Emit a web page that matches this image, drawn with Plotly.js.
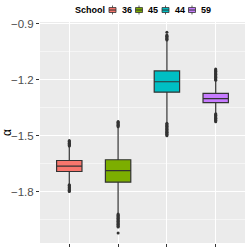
<!DOCTYPE html>
<html>
<head>
<meta charset="utf-8">
<script src="https://cdn.plot.ly/plotly-3.0.1.min.js"></script>
<style>html,body{margin:0;padding:0;background:#fff}#chart{width:249px;height:249px}</style>
</head>
<body>
<div id="chart"></div>
<script>
// ---- data ----
var schools = ['36', '45', '44', '59'];
var colors = ['#F8766D', '#7CAE00', '#00BFC4', '#C77CFF'];
var q1 = [-1.691, -1.748, -1.266, -1.322];
var median = [-1.662, -1.686, -1.210, -1.300];
var q3 = [-1.632, -1.628, -1.152, -1.272];
var lowerfence = [-1.758, -1.915, -1.428, -1.379];
var upperfence = [-1.557, -1.455, -0.990, -1.205];
var outliers36 = [-1.525, -1.529, -1.533, -1.537, -1.540, -1.543, -1.546, -1.549, -1.552, -1.554,
                  -1.762, -1.765, -1.769, -1.772, -1.776, -1.779, -1.783, -1.787, -1.791, -1.795, -1.798];
var outliers45 = [-1.423, -1.427, -1.431, -1.435, -1.439, -1.443, -1.447, -1.451,
                  -1.919, -1.923, -1.926, -1.930, -1.934, -1.938, -1.942, -1.946, -1.950, -1.954, -1.958,
                  -1.962, -1.966, -1.970, -1.974, -1.978, -1.982, -1.985, -1.988, -2.020];
var outliers44 = [-0.945, -0.959, -0.963, -0.967, -0.971, -0.975, -0.979, -0.983, -0.987,
                  -1.432, -1.436, -1.440, -1.444, -1.448, -1.452, -1.456, -1.460, -1.464, -1.468, -1.472,
                  -1.476, -1.480, -1.484, -1.488, -1.492, -1.496, -1.500];
var outliers59 = [-1.142, -1.146, -1.150, -1.154, -1.158, -1.162, -1.166, -1.170, -1.174, -1.178,
                  -1.182, -1.186, -1.190, -1.194, -1.198, -1.202,
                  -1.381, -1.385, -1.389, -1.393, -1.397, -1.401, -1.405, -1.409, -1.413, -1.417, -1.421, -1.425];
var outlierSets = [outliers36, outliers45, outliers44, outliers59];
var yTickVals = [-0.9, -1.2, -1.5, -1.8];
var yTickText = ['\u22120.9', '\u22121.2', '\u22121.5', '\u22121.8'];
var legendTitle = 'School';
var yTitle = '\u03b1';

// ---- traces ----
var traces = [];
schools.forEach(function (s, i) {
  traces.push({
    type: 'box', x: [s],
    q1: [q1[i]], median: [median[i]], q3: [q3[i]],
    lowerfence: [lowerfence[i]], upperfence: [upperfence[i]],
    boxpoints: false, width: 0.52, whiskerwidth: 0,
    fillcolor: colors[i], line: { color: '#333333', width: 1.2 },
    showlegend: false, hoverinfo: 'skip'
  });
});
schools.forEach(function (s, i) {
  traces.push({
    type: 'scatter', mode: 'markers',
    x: outlierSets[i].map(function () { return s; }), y: outlierSets[i],
    marker: { color: '#333333', size: 3 },
    showlegend: false, hoverinfo: 'skip'
  });
});

// ---- custom legend (paper coords) ----
var L = 40, R = 245, T = 22, B = 243.3;
function px(x) { return (x - L) / (R - L); }
function py(y) { return (B - y) / (B - T); }
var annotations = [{
  xref: 'paper', yref: 'paper', x: px(73), y: py(10), xanchor: 'left', yanchor: 'middle',
  text: '<b>' + legendTitle + '</b>', showarrow: false,
  font: { family: 'Liberation Sans, Arial, sans-serif', size: 9, color: '#000' }
}];
var shapes = [];
var iconLeft = [109, 135.5, 162, 188.5];
schools.forEach(function (s, i) {
  var x0 = iconLeft[i], x1 = x0 + 7, xc = x0 + 3.5;
  shapes.push({ type: 'line', xref: 'paper', yref: 'paper', x0: px(xc), x1: px(xc), y0: py(5.5), y1: py(14.5),
    line: { color: '#333333', width: 0.8 } });
  shapes.push({ type: 'rect', xref: 'paper', yref: 'paper', x0: px(x0), x1: px(x1), y0: py(7.5), y1: py(12.5),
    fillcolor: colors[i], line: { color: '#333333', width: 0.8 } });
  shapes.push({ type: 'line', xref: 'paper', yref: 'paper', x0: px(x0), x1: px(x1), y0: py(10), y1: py(10),
    line: { color: '#333333', width: 1 } });
  annotations.push({
    xref: 'paper', yref: 'paper', x: px(x1 + 3.5), y: py(10), xanchor: 'left', yanchor: 'middle',
    text: '<b>' + s + '</b>', showarrow: false,
    font: { family: 'Liberation Sans, Arial, sans-serif', size: 9, color: '#000' }
  });
});

var layout = {
  width: 249, height: 249,
  margin: { l: L, r: 249 - R, t: T, b: 249 - B },
  paper_bgcolor: '#ffffff', plot_bgcolor: '#EBEBEB',
  showlegend: false,
  font: { family: 'Liberation Sans, Arial, sans-serif' },
  xaxis: {
    type: 'category', categoryorder: 'array', categoryarray: schools,
    range: [-0.6, 3.6], showticklabels: false,
    ticks: 'outside', ticklen: 3, tickcolor: '#333333', tickwidth: 1,
    showgrid: true, gridcolor: '#ffffff', gridwidth: 1.1, zeroline: false, showline: false, fixedrange: true
  },
  yaxis: {
    range: [-2.074, -0.890],
    tickvals: yTickVals, ticktext: yTickText,
    ticks: 'outside', ticklen: 3, tickcolor: '#333333', tickwidth: 1,
    tickfont: { size: 11.5, color: '#4D4D4D' },
    showgrid: true, gridcolor: '#ffffff', gridwidth: 1.1,
    minor: { tickvals: [-1.05, -1.35, -1.65, -1.95], showgrid: true, gridcolor: '#ffffff', gridwidth: 0.5, ticks: '' },
    zeroline: false, showline: false,
    title: { text: yTitle, font: { size: 12, color: '#000' }, standoff: 4 },
    fixedrange: true
  },
  annotations: annotations,
  shapes: shapes
};

Plotly.newPlot('chart', traces, layout, { staticPlot: true, displayModeBar: false });
</script>
</body>
</html>
